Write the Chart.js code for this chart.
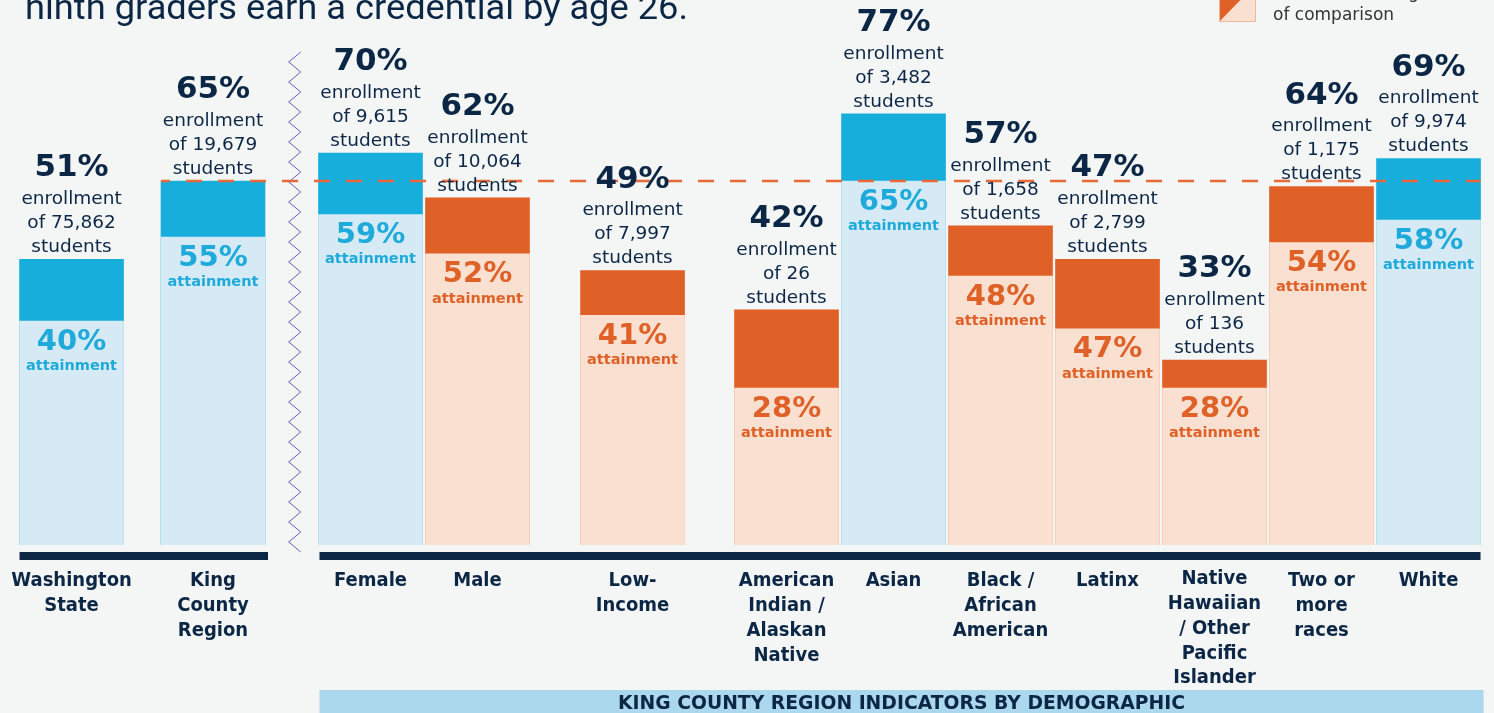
<!DOCTYPE html>
<html><head><meta charset="utf-8">
<script src="https://cdn.jsdelivr.net/npm/chart.js@4.4.0/dist/chart.umd.min.js"></script>
<style>
html,body{margin:0;padding:0;background:#f4f5f5;}
#wrap{position:relative;width:1494px;height:713px;overflow:hidden;background:#f4f5f5;}
canvas{display:block}
</style></head><body>
<div id="wrap"><canvas id="c" width="1494" height="713"></canvas></div>
<script>
// ---- data ----
const categories = [["Washington","State"],["King","County","Region"],["Female"],["Male"],["Low-","Income"],["American","Indian /","Alaskan","Native"],["Asian"],["Black /","African","American"],["Latinx"],["Native","Hawaiian","/ Other","Pacific","Islander"],["Two or","more","races"],["White"]];
const slotPositions = [-2.794,-1.472,0,1,2.449,3.888,4.888,5.888,6.888,7.888,8.888,9.888];
const enrollmentBars = [51,65,70,62,49,42,77,57,51,33,64,69];
const attainmentBars = [40,55,59,52,41,28,65,48,38.6,28,54,58];
const enrollmentLabels = [51,65,70,62,49,42,77,57,47,33,64,69];
const attainmentLabels = [40,55,59,52,41,28,65,48,47,28,54,58];
const studentCounts = ["75,862","19,679","9,615","10,064","7,997","26","3,482","1,658","2,799","136","1,175","9,974"];
const comparisonCount = 2;
const averageEnrollment = 65;
const titleText = "ninth graders earn a credential by age 26.";
const legendLines = ["Less than average","of comparison"];
const bannerText = "KING COUNTY REGION INDICATORS BY DEMOGRAPHIC";

// ---- styles ----
const blueDark='#17aedb', blueLight='#d6eaf5', orangeDark='#e06127', orangeLight='#fae0d0';
const navy='#0c2746', blueText='#1eaadb', orangeText='#e06127', dashColor='#e8693a';
const isBlue = enrollmentLabels.map((v,i)=> i<comparisonCount || v>=averageEnrollment);
const BAR_W = 104;

function txt(ctx, s, x, y, font, color, align, scaleX){
  ctx.save(); ctx.font=font; ctx.fillStyle=color; ctx.textAlign=align||'center'; ctx.textBaseline='middle';
  ctx.translate(x,y); ctx.scale(scaleX||1,1); ctx.fillText(s,0,0); ctx.restore();
}
function fitTxt(ctx, s, x, y, font, color, align, width){
  ctx.save(); ctx.font=font; const w=ctx.measureText(s).width; ctx.restore();
  txt(ctx,s,x,y,font,color,align,width/w);
}

const decor = {
  id:'decor',
  beforeDraw(chart){
    const ctx=chart.ctx; ctx.save(); ctx.fillStyle='#f4f5f5'; ctx.fillRect(0,0,chart.width,chart.height); ctx.restore();
  },
  afterDatasetsDraw(chart){
    const ctx=chart.ctx, xs=chart.scales.x, ys=chart.scales.y;
    const X=i=>xs.getPixelForValue(slotPositions[i]);
    const y0=ys.getPixelForValue(0);
    const n=categories.length;
    ctx.save();
    // baselines
    ctx.fillStyle=navy;
    ctx.fillRect(X(0)-BAR_W/2, y0+7, (X(1)+55)-(X(0)-BAR_W/2), 8);
    ctx.fillRect(X(2)-51, y0+7, (X(n-1)+BAR_W/2)-(X(2)-51), 8);
    // zigzag break
    const zx=(X(1)+X(2))/2+3;
    ctx.strokeStyle='#5b60c4'; ctx.lineWidth=1; ctx.beginPath();
    let k=0; for(let y=52;y<=558;y+=10){ const xx = zx + (k%2?-6:6); if(k===0) ctx.moveTo(xx,y); else ctx.lineTo(xx,y); k++; }
    ctx.stroke();
    // dashed average line
    const ya=ys.getPixelForValue(averageEnrollment);
    ctx.strokeStyle=dashColor; ctx.lineWidth=2.5; ctx.setLineDash([16,16]); ctx.lineDashOffset=7;
    ctx.beginPath(); ctx.moveTo(X(1)-BAR_W/2, ya); ctx.lineTo(X(n-1)+BAR_W/2, ya); ctx.stroke();
    ctx.setLineDash([]);
    ctx.restore();
    // value labels
    for(let i=0;i<n;i++){
      const cx=X(i);
      const top=ys.getPixelForValue(enrollmentBars[i]);
      txt(ctx, enrollmentLabels[i]+'%', cx, top-91, 'bold 31px "DejaVu Sans"', navy);
      txt(ctx, 'enrollment', cx, top-60, '18.5px "DejaVu Sans"', navy);
      txt(ctx, 'of '+studentCounts[i], cx, top-36, '18.5px "DejaVu Sans"', navy);
      txt(ctx, 'students', cx, top-12, '18.5px "DejaVu Sans"', navy);
      const at=ys.getPixelForValue(attainmentBars[i]);
      const col=isBlue[i]?blueText:orangeText;
      txt(ctx, attainmentLabels[i]+'%', cx, at+21, 'bold 29px "DejaVu Sans"', col);
      txt(ctx, 'attainment', cx, at+45, 'bold 14.5px "DejaVu Sans"', col);
      // category labels
      const lines=categories[i];
      const startY = lines.length>4 ? y0+34 : y0+36;
      lines.forEach((l,j)=> txt(ctx, l, cx, startY+j*24.8, 'bold 20px "DejaVu Sans"', navy, 'center', 0.9));
    }
    // banner
    const bx=X(2)-51, bw=(X(n-1)+55)-bx;
    ctx.fillStyle='#acd8ee'; ctx.fillRect(bx, 690, bw, 30);
    fitTxt(ctx, bannerText, bx+bw/2, 704, 'bold 20px "DejaVu Sans"', navy, 'center', 567);
    // title
    ctx.save(); ctx.font='35px Roboto'; const tw=ctx.measureText(titleText).width; ctx.restore();
    ctx.save(); ctx.font='35px Roboto'; ctx.fillStyle=navy; ctx.textBaseline='alphabetic'; ctx.textAlign='left';
    ctx.translate(25,19); ctx.scale(663/tw,1); ctx.fillText(titleText,0,0); ctx.restore();
    // legend
    ctx.save();
    ctx.fillStyle=orangeLight; ctx.fillRect(1219,-16,37,38);
    ctx.fillStyle=orangeDark; ctx.beginPath(); ctx.moveTo(1219,-16); ctx.lineTo(1256,-16); ctx.lineTo(1219,22); ctx.closePath(); ctx.fill();
    ctx.strokeStyle='#f2b79a'; ctx.lineWidth=1; ctx.strokeRect(1219.5,-16,36,37.5);
    ctx.restore();
    txt(ctx, legendLines[0], 1273, -6, '17px "DejaVu Sans"', '#333333', 'left');
    txt(ctx, legendLines[1], 1273, 16, '17px "DejaVu Sans"', '#333333', 'left');
  }
};

new Chart(document.getElementById('c').getContext('2d'), {
  type:'bar',
  data:{datasets:[
    {label:'Attainment', data: slotPositions.map((x,i)=>({x, y: attainmentBars[i]})),
     backgroundColor: isBlue.map(b=>b?blueLight:orangeLight), order:0, barThickness:BAR_W, grouped:false, borderWidth:0},
    {label:'Enrollment', data: slotPositions.map((x,i)=>({x, y: enrollmentBars[i]})),
     backgroundColor: isBlue.map(b=>b?blueDark:orangeDark), order:1, barThickness:BAR_W, grouped:false, borderWidth:0}
  ]},
  options:{
    responsive:false, animation:false, devicePixelRatio:1,
    layout:{padding:{top:13,bottom:168,left:0,right:0}},
    scales:{
      x:{type:'linear', min:-3.4626, max:10.5, display:false, offset:false, grid:{offset:false}},
      y:{min:0, max:95, display:false}
    },
    plugins:{legend:{display:false}, tooltip:{enabled:false}}
  },
  plugins:[decor]
});
</script>
</body></html>
